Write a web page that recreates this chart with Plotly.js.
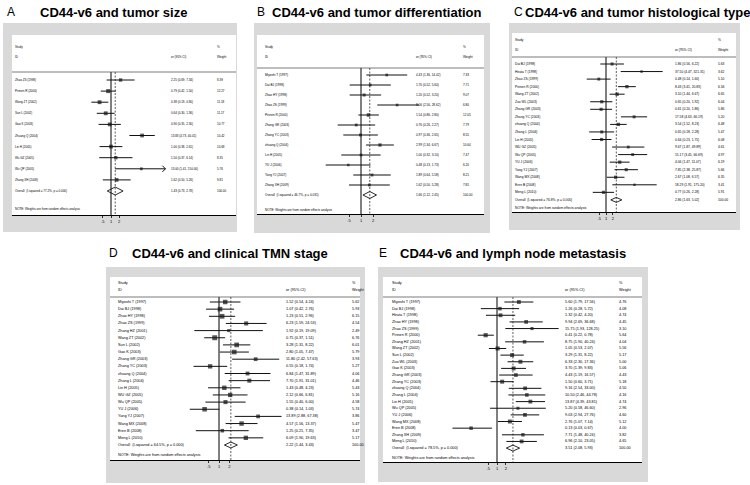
<!DOCTYPE html>
<html><head><meta charset="utf-8">
<script src="https://cdn.plot.ly/plotly-3.0.1.min.js"></script>
<style>html,body{margin:0;padding:0;background:#fff}#chart{width:750px;height:485px}</style>
</head><body><div id="chart"></div>
<script>
// ================= DATA =================
const panelLabels = ["A", "B", "C", "D", "E"];
const panelTitles = ["CD44-v6 and tumor size", "CD44-v6 and tumor differentiation", "CD44-v6 and tumor histological type", "CD44-v6 and clinical TMN stage", "CD44-v6 and lymph node metastasis"];
const tickVals = [0.5, 1, 2];
const tickText = [".5", "1", "2"];

// A: tumor size
const namesA = ["Zhao ZS (1998)", "Pirinen R (2000)", "Wang ZT (2002)", "Sun L (2002)", "Gao K (2003)", "Zhuang Q (2004)", "Lin H (2005)", "Wu GZ (2005)", "Wu QP (2005)", "Zhang XH (2009)"];
const orA = [2.25, 0.79, 0.38, 0.64, 0.90, 13.83, 1.00, 1.50, 13.00, 1.62];
const loA = [0.69, 0.42, 0.19, 0.30, 0.35, 4.73, 0.38, 0.37, 1.41, 0.50];
const hiA = [7.34, 1.50, 0.80, 1.36, 2.30, 40.41, 2.61, 6.14, 150.00, 5.26];
const wA = [8.39, 12.27, 11.18, 11.17, 10.77, 10.42, 10.68, 8.35, 5.76, 9.81];
const overallA = [1.43, 0.73, 2.78];
const hetA = "I-squared = 77.2%, p = 0.000";

// B: tumor differentiation
const namesB = ["Miyoshi T (1997)", "Dai BJ (1998)", "Zhao HY (1998)", "Zhao ZS (1999)", "Pirinen R (2000)", "Zhang GR (2003)", "Zhang YC (2003)", "zhuang Q (2004)", "Lin H (2005)", "YU J (2006)", "Yang YJ (2007)", "Zhang XH (2009)"];
const orB = [4.43, 1.70, 1.20, 8.06, 1.54, 0.76, 0.97, 2.99, 1.00, 0.48, 1.89, 1.62];
const loB = [1.36, 0.52, 0.52, 2.56, 0.86, 0.26, 0.36, 1.34, 0.32, 0.13, 0.64, 0.50];
const hiB = [14.42, 5.60, 3.20, 28.62, 2.80, 2.27, 2.65, 6.67, 3.10, 1.73, 5.58, 5.28];
const wB = [7.33, 7.71, 9.07, 6.80, 12.05, 7.79, 8.55, 10.64, 7.47, 6.20, 8.21, 7.81];
const overallB = [1.66, 1.12, 2.45];
const hetB = "I-squared = 46.7%, p = 0.031";

// C: tumor histological type
const namesC = ["Dai BJ (1998)", "Hirata T (1998)", "Zhao ZS (1999)", "Pirinen R (2000)", "Wang ZT (2002)", "Zuo WL (2003)", "Zhang GR (2003)", "Zhang YC (2003)", "zhuang Q (2004)", "Zhang L (2004)", "Lin H (2005)", "WU GZ (2005)", "Wu QP (2005)", "YU J (2006)", "Yang YJ (2007)", "Wang MX (2008)", "Eren B (2008)", "Meng L (2010)"];
const orC = [1.86, 37.50, 0.48, 8.43, 3.10, 0.65, 0.61, 17.58, 3.54, 0.65, 0.64, 9.67, 15.17, 4.06, 7.85, 2.67, 18.29, 0.77];
const loC = [0.56, 4.47, 0.14, 3.41, 1.44, 0.20, 0.20, 4.63, 1.52, 0.18, 0.23, 1.87, 3.45, 1.47, 2.38, 1.08, 1.91, 0.26];
const hiC = [6.22, 321.31, 1.60, 20.83, 6.67, 1.92, 1.86, 66.19, 8.23, 2.28, 1.75, 49.89, 66.69, 11.07, 25.87, 6.57, 175.20, 2.28];
const wC = [5.63, 3.62, 5.10, 6.34, 6.65, 6.04, 5.86, 5.20, 6.48, 5.47, 6.08, 4.61, 4.97, 6.19, 5.66, 6.35, 3.41, 5.91];
const overallC = [2.86, 1.63, 5.02];
const hetC = "I-squared = 76.8%, p = 0.000";

// D: clinical TMN stage
const namesD = ["Miyoshi T (1997)", "Dai BJ (1998)", "Zhao HY (1998)", "Zhao ZS (1999)", "Zhang HZ (2001)", "Wang ZT (2002)", "Sun L (2002)", "Gao K (2003)", "Zhang GR (2003)", "Zhang YC (2003)", "zhuang Q (2004)", "Zhang L (2004)", "Lin H (2005)", "WU GZ (2005)", "Wu QP (2005)", "YU J (2006)", "Yang YJ (2007)", "Wang MX (2008)", "Eren B (2008)", "Meng L (2010)"];
const orD = [1.52, 1.07, 1.23, 6.23, 1.92, 0.75, 3.28, 2.80, 11.80, 0.55, 6.84, 7.70, 1.43, 2.12, 1.55, 0.38, 13.89, 4.57, 1.25, 6.09];
const loD = [0.54, 0.42, 0.51, 1.59, 0.19, 0.37, 1.31, 1.05, 2.42, 0.18, 1.47, 1.91, 0.48, 0.66, 0.40, 0.14, 2.88, 1.56, 0.21, 1.90];
const hiD = [4.24, 2.76, 2.96, 24.53, 19.09, 1.51, 8.22, 7.47, 57.63, 1.74, 31.89, 31.01, 4.23, 6.81, 6.00, 1.03, 67.38, 13.37, 7.35, 19.63];
const wD = [5.62, 5.93, 6.15, 4.54, 2.49, 6.76, 6.01, 5.79, 3.93, 5.27, 4.06, 4.46, 5.43, 5.16, 4.58, 5.74, 3.86, 5.47, 3.47, 5.17];
const overallD = [2.22, 1.44, 3.43];
const hetD = "I-squared = 64.5%, p = 0.000";

// E: lymph node metastasis
const namesE = ["Miyoshi T (1997)", "Dai BJ (1998)", "Hirata T (1998)", "Zhao HY (1998)", "Zhao ZS (1999)", "Pirinen R (2000)", "Zhang HZ (2001)", "Wang ZT (2002)", "Sun L (2002)", "Zuo WL (2003)", "Gao K (2003)", "Zhang GR (2003)", "Zhang YC (2003)", "zhuang Q (2004)", "Zhang L (2004)", "Lin H (2005)", "Wu QP (2005)", "YU J (2006)", "Wang MX (2008)", "Eren B (2008)", "Zhang XH (2009)", "Meng L (2010)"];
const orE = [5.60, 1.26, 1.32, 9.94, 15.75, 0.41, 8.75, 1.05, 3.29, 6.33, 3.70, 4.43, 1.50, 9.16, 10.50, 13.87, 5.20, 9.03, 2.76, 0.13, 7.71, 6.96];
const loE = [1.79, 0.28, 0.42, 2.69, 1.93, 0.22, 1.90, 0.53, 1.31, 2.30, 1.39, 1.19, 0.60, 2.54, 2.46, 4.39, 0.58, 2.94, 1.07, 0.03, 1.48, 2.10];
const hiE = [17.56, 5.72, 4.20, 36.68, 128.25, 0.78, 40.24, 2.07, 8.22, 17.36, 9.83, 16.57, 3.71, 33.00, 44.78, 43.81, 46.60, 27.76, 7.14, 0.67, 40.24, 23.05];
const wE = [4.76, 4.08, 4.74, 4.45, 3.10, 5.64, 4.04, 5.56, 5.17, 5.00, 5.06, 4.43, 5.18, 4.50, 4.16, 4.74, 2.96, 4.60, 5.12, 4.00, 3.82, 4.65];
const overallE = [3.51, 2.08, 5.93];
const hetE = "I-squared = 78.5%, p = 0.000";

const panels = [
  {names: namesA, or: orA, lo: loA, hi: hiA, w: wA, overall: overallA, het: hetA},
  {names: namesB, or: orB, lo: loB, hi: hiB, w: wB, overall: overallB, het: hetB},
  {names: namesC, or: orC, lo: loC, hi: hiC, w: wC, overall: overallC, het: hetC},
  {names: namesD, or: orD, lo: loD, hi: hiD, w: wD, overall: overallD, het: hetD},
  {names: namesE, or: orE, lo: loE, hi: hiE, w: wE, overall: overallE, het: hetE}
];

// ================= GEOMETRY (pixels) =================
const W = 750, H = 485;
const geo = [
  {gray:[3,23,237,232], white:[12,35,236,215], one:111, ppd:8.2, row1:80, dy:11.1, sep:72, note:209, hdr1:47, hdr2:57, xName:13, xOr:169, xW:215, fs:3.0, tickfs:4, k:1.15, dh:0.36, clip:100, lab:[5,12], tit:[38,12]},
  {gray:[254,23,490,233], white:[257,35,484,214], one:361, ppd:12, row1:75, dy:10, sep:68, note:210, hdr1:47, hdr2:57, xName:263, xOr:414, xW:461, fs:3.1, tickfs:4, k:1.0, dh:0.35, clip:1e9, lab:[255,12], tit:[270,12]},
  {gray:[509,23,740,230], white:[512,33,736,212], one:606, ppd:6.8, row1:64, dy:7.55, sep:57, note:208, hdr1:40, hdr2:50, xName:513, xOr:673, xW:716, fs:3.3, tickfs:4, k:1.3, dh:0.33, clip:1e9, lab:[512,12], tit:[523,12]},
  {gray:[106,267,365,483], white:[110,277,360,460], one:219, ppd:10.3, row1:302, dy:7.15, sep:297, note:455, hdr1:283, hdr2:290, xName:116, xOr:284, xW:350, fs:3.8, tickfs:4, k:1.9, dh:0.42, clip:1e9, lab:[107,253], tit:[130,253]},
  {gray:[378,267,648,482], white:[383,277,642,462], one:497, ppd:8.8, row1:302, dy:6.64, sep:297, note:458, hdr1:283, hdr2:290, xName:390, xOr:563, xW:617, fs:3.8, tickfs:4, k:1.75, dh:0.45, clip:1e9, lab:[377,253], tit:[398,253]}
];

const FONT = "Liberation Sans, Arial, Helvetica, sans-serif";
const px = v => v / W;
const py = v => 1 - v / H;
const LOG2 = Math.log10(2);
const f2 = v => v.toFixed(2);

const traces = [], shapes = [], annotations = [];
const layout = {
  width: W, height: H, margin: {l:0, r:0, t:0, b:0},
  paper_bgcolor: "#ffffff", plot_bgcolor: "rgba(0,0,0,0)",
  showlegend: false, font: {family: FONT, color: "#000"},
  shapes: shapes, annotations: annotations
};

panels.forEach((p, idx) => {
  const g = geo[idx];
  const n = idx + 1;
  const xa = n === 1 ? "x" : "x" + n, ya = n === 1 ? "y" : "y" + n;
  const xk = n === 1 ? "xaxis" : "xaxis" + n, yk = n === 1 ? "yaxis" : "yaxis" + n;
  const N = p.names.length;
  const rowOf = pix => 1 + (pix - g.row1) / g.dy;
  const yBot = rowOf(g.white[3]), yTop = rowOf(g.sep);

  layout[xk] = {
    type: "log", domain: [px(g.white[0]), px(g.white[2])],
    range: [LOG2 * (g.white[0] - g.one) / g.ppd, LOG2 * (g.white[2] - g.one) / g.ppd],
    anchor: ya, showline: true, linecolor: "#000", linewidth: 1,
    ticks: "outside", ticklen: 2, tickwidth: 0.8, tickcolor: "#000",
    tickmode: "array", tickvals: tickVals, ticktext: tickText,
    tickfont: {size: g.tickfs, color: "#000", family: FONT},
    showgrid: false, zeroline: false, fixedrange: true
  };
  layout[yk] = {
    domain: [py(g.white[3]), py(g.sep)], range: [yBot, yTop], anchor: xa,
    showgrid: false, zeroline: false, showline: false, showticklabels: false, ticks: "", fixedrange: true
  };

  // backgrounds
  shapes.push({type:"rect", xref:"paper", yref:"paper", x0:px(g.gray[0]), x1:px(g.gray[2]), y0:py(g.gray[3]), y1:py(g.gray[1]), fillcolor:"#d9d9d9", line:{width:0}, layer:"below"});
  shapes.push({type:"rect", xref:"paper", yref:"paper", x0:px(g.white[0]), x1:px(g.white[2]), y0:py(g.white[3]), y1:py(g.white[1]), fillcolor:"#ffffff", line:{width:0}, layer:"below"});
  shapes.push({type:"line", xref:"paper", yref:"paper", x0:px(g.white[0]), x1:px(g.white[2]), y0:py(g.sep), y1:py(g.sep), line:{color:"#444", width:0.7}});

  // null line and overall line
  traces.push({type:"scatter", mode:"lines", x:[1,1], y:[yTop,yBot], xaxis:xa, yaxis:ya, line:{color:"#000", width:1}, hoverinfo:"skip"});
  traces.push({type:"scatter", mode:"lines", x:[p.overall[0], p.overall[0]], y:[yTop,yBot], xaxis:xa, yaxis:ya, line:{color:"#333", width:0.8, dash:"2px,1.5px"}, hoverinfo:"skip"});

  // CI lines (clip with arrow when above limit)
  const cx = [], cy = [], ax = [], ay = [];
  p.or.forEach((v, i) => {
    const r = i + 1;
    const hi = Math.min(p.hi[i], g.clip);
    cx.push(p.lo[i], hi, null); cy.push(r, r, null);
    if (p.hi[i] > g.clip) {
      ax.push(g.clip / 1.3, g.clip, g.clip / 1.3, null);
      ay.push(r - 0.28, r, r + 0.28, null);
    }
  });
  traces.push({type:"scatter", mode:"lines", x:cx, y:cy, xaxis:xa, yaxis:ya, line:{color:"#111", width:1}, hoverinfo:"skip", connectgaps:false});
  if (ax.length) traces.push({type:"scatter", mode:"lines", x:ax, y:ay, xaxis:xa, yaxis:ya, line:{color:"#111", width:1}, hoverinfo:"skip"});

  // weight boxes
  traces.push({type:"scatter", mode:"markers", x:p.or, y:p.or.map((v,i)=>i+1), xaxis:xa, yaxis:ya,
    marker:{symbol:"square", color:"#111", size:p.w.map(w => g.k * Math.sqrt(w)), line:{width:0}}, hoverinfo:"skip"});

  // overall diamond
  const ro = N + 1;
  traces.push({type:"scatter", mode:"lines", x:[p.overall[1], p.overall[0], p.overall[2], p.overall[0], p.overall[1]],
    y:[ro, ro - g.dh, ro, ro + g.dh, ro], xaxis:xa, yaxis:ya, line:{color:"#111", width:0.9}, hoverinfo:"skip"});

  // text
  const txt = (x, y, text, yref, size) => annotations.push({xref:"paper", yref:yref, x:px(x), y:y, text:text, showarrow:false,
    xanchor:"left", yanchor:"middle", font:{size:size, color:"#000", family:FONT}});
  txt(g.xName, py(g.hdr1), "Study", "paper", g.fs);
  txt(g.xName, py(g.hdr2), "ID", "paper", g.fs);
  txt(g.xOr, py(g.hdr2), "or (95% CI)", "paper", g.fs);
  txt(g.xW, py(g.hdr1), "%", "paper", g.fs);
  txt(g.xW, py(g.hdr2), "Weight", "paper", g.fs);
  p.names.forEach((nm, i) => {
    txt(g.xName, i + 1, nm, ya, g.fs);
    txt(g.xOr, i + 1, f2(p.or[i]) + " (" + f2(p.lo[i]) + ", " + f2(p.hi[i]) + ")", ya, g.fs);
    txt(g.xW, i + 1, f2(p.w[i]), ya, g.fs);
  });
  txt(g.xName, ro, "Overall  (" + p.het + ")", ya, g.fs);
  txt(g.xOr, ro, f2(p.overall[0]) + " (" + f2(p.overall[1]) + ", " + f2(p.overall[2]) + ")", ya, g.fs);
  txt(g.xW, ro, f2(100), ya, g.fs);
  txt(g.xName, py(g.note), "NOTE: Weights are from random effects analysis", "paper", g.fs);

  // panel label and title
  annotations.push({xref:"paper", yref:"paper", x:px(g.lab[0]), y:py(g.lab[1]), text:panelLabels[idx], showarrow:false,
    xanchor:"left", yanchor:"middle", font:{size:12, color:"#000", family:FONT}});
  annotations.push({xref:"paper", yref:"paper", x:px(g.tit[0]), y:py(g.tit[1]), text:"<b>" + panelTitles[idx] + "</b>", showarrow:false,
    xanchor:"left", yanchor:"middle", font:{size:13, color:"#000", family:FONT}});
});

Plotly.newPlot("chart", traces, layout, {staticPlot: true, displayModeBar: false});
</script>
</body></html>
